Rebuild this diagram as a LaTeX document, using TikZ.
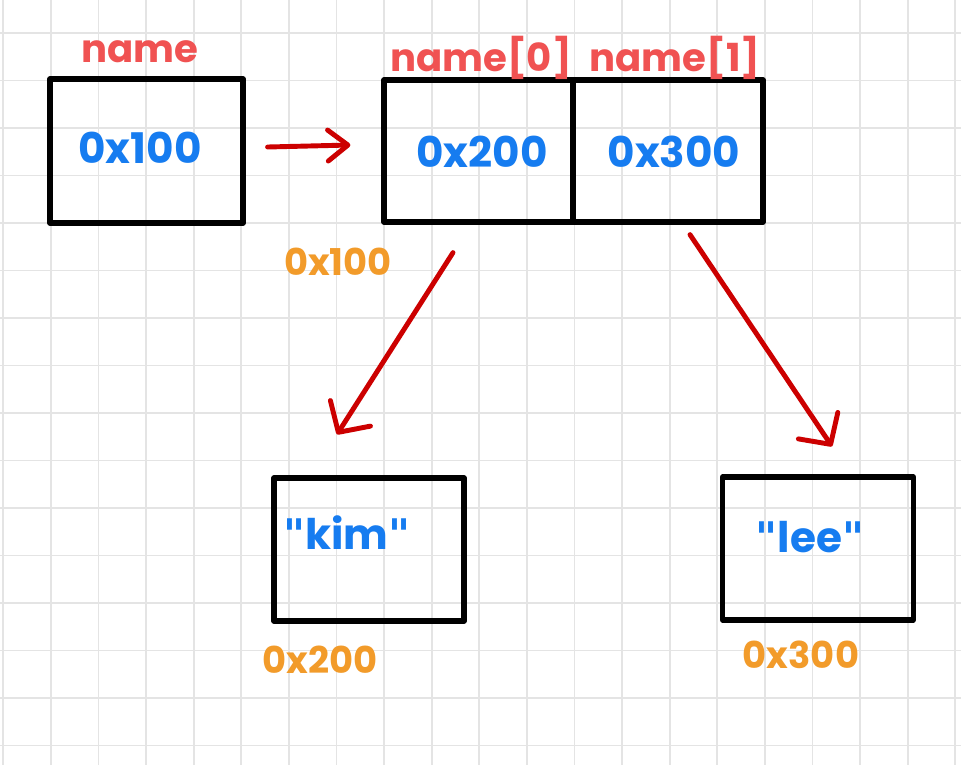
\documentclass[tikz,border=0pt]{standalone}
\usepackage{fontspec}
\setmainfont{Poppins}
\newfontfamily\quotefont{DejaVu Sans}
\usetikzlibrary{arrows.meta}
\definecolor{gridgray}{RGB}{228,228,228}
\definecolor{namered}{RGB}{240,82,82}
\definecolor{valblue}{RGB}{22,124,240}
\definecolor{addrorange}{RGB}{242,155,42}
\definecolor{arrowred}{RGB}{204,0,0}
\newcommand{\qq}{{\quotefont\symbol{34}}}

\begin{document}
\begin{tikzpicture}[x=0.02cm,y=-0.02cm,
    box/.style={draw=black,line width=3pt,line join=round,rectangle,inner sep=0pt},
    lbl/.style={text=namered,font=\fontsize{22}{22}\selectfont\bfseries},
    val/.style={text=valblue,font=\fontsize{24}{24}\selectfont\bfseries},
    where/.style={text=addrorange,font=\fontsize{21}{21}\selectfont\bfseries},
    link/.style={arrowred,line width=2.8pt,line cap=round,line join=round,
        -{Straight Barb[length=0.45cm,width=0.95cm,line cap=round,round]}}]
    % paper
    \fill[white] (0,0) rectangle (961,765);
    \useasboundingbox (0,0) rectangle (961,765);
    \foreach \k in {0,...,20}
        \draw[gridgray,line width=1pt] (3.3+47.6*\k,0) -- (3.3+47.6*\k,765);
    \foreach \k in {0,...,15}
        \draw[gridgray,line width=1pt] (0,33+47.5*\k) -- (961,33+47.5*\k);

    % pointer and array
    \node[box,minimum width=3.86cm,minimum height=2.88cm] (ptr) at (146.5,151) {};
    \node[box,minimum width=3.78cm,minimum height=2.84cm] (cell0) at (478.5,151) {};
    \node[box,minimum width=3.80cm,minimum height=2.84cm] (cell1) at (668,151) {};
    \node[lbl] (ptrname) at (140,52) {name};
    \node[lbl] (name0) at (481,58) {name[0]};
    \node[lbl] (name1) at (675,58) {name[1]};
    \node[val] (ptrval) at (140,148) {0x100};
    \node[val] (val0) at (482,152) {0x200};
    \node[val] (val1) at (674,152) {0x300};
    \node[where] (addr0) at (338,262) {0x100};

    % strings
    \node[box,minimum width=3.80cm,minimum height=2.86cm] (kim) at (369,549.5) {};
    \node[box,minimum width=3.81cm,minimum height=2.86cm] (lee) at (818,548.5) {};
    \node[val] (kimtxt) at (347,533) {\qq kim\qq};
    \node[val] (leetxt) at (810,537) {\qq lee\qq};
    \node[where] (addr1) at (320,660) {0x200};
    \node[where] (addr2) at (801,655) {0x300};

    % arrows
    \draw[link,-{Straight Barb[length=0.4cm,width=0.62cm,line cap=round,round]}]
        ([shift={(22,-4)}]ptr.east) -- ([shift={(-31,-6)}]cell0.west);
    \draw[link] ([shift={(-25.5,28)}]cell0.south) -- ([shift={(-32,-41)}]kim.north);
    \draw[link] ([shift={(22,10)}]cell1.south) -- ([shift={(14,-28)}]lee.north);
\end{tikzpicture}
\end{document}
